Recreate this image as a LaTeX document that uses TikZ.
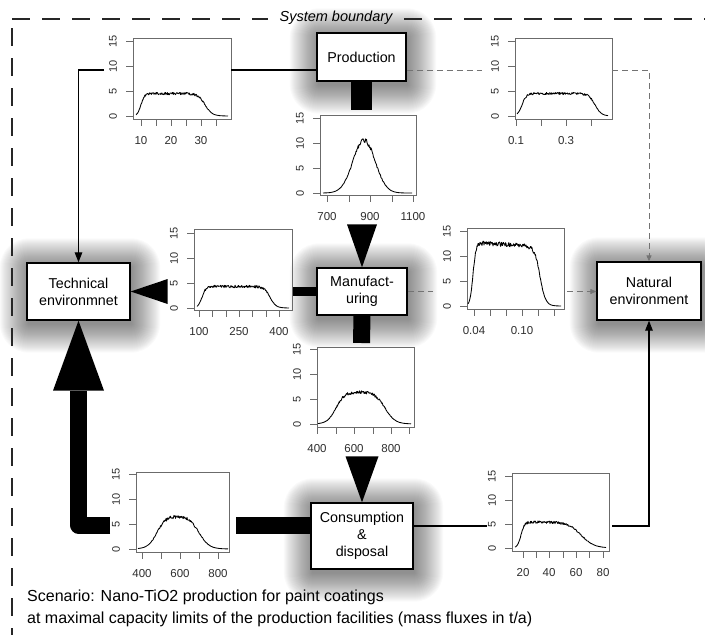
\documentclass[tikz,border=0pt]{standalone}
\usepackage{fontspec}
\setmainfont{Liberation Sans}
\usetikzlibrary{arrows.meta,backgrounds}

\definecolor{framegray}{gray}{0.42}
\definecolor{labgray}{gray}{0.18}
\definecolor{dashgray}{gray}{0.45}

% plot frame: name, left, top, right, bottom
\newcommand\plotframe[5]{%
  \node[pframe, minimum width={#4-#2}, minimum height={#5-#3}] (#1) at ({(#2+#4)/2},{(#3+#5)/2}) {};}
% y axis: name, left edge, pixel row of value 0, pixels per unit
\newcommand\yaxis[4]{%
  \foreach \v in {0,5,10,15}{%
    \draw[axtick] (#2,{#3-#4*\v}) -- ++(-7,0);
    \node[ylab] (#1y\v) at ({#2-20},{#3-#4*\v}) {\v};}}
% x axis: name, bottom edge, tick positions, position/label pairs
\newcommand\xaxis[4]{%
  \foreach \t in {#3} \draw[axtick] (\t,#2) -- ++(0,7);
  \foreach \t/\l [count=\i] in {#4} \node[xlab] (#1x\i) at (\t,{#2+22}) {\l};}
% soft shadow behind a box
\newcommand\boxshade[1]{%
  \foreach \s in {0,...,28}{%
    \fill[black, opacity=0.021, rounded corners={\s pt+1pt}]
      ([shift={({-\s*1pt+1.5pt},{-\s*1pt-4pt})}]#1.south west) rectangle
      ([shift={({\s*1pt+1.5pt},{\s*1pt-4pt})}]#1.north east);}}

\begin{document}
\begin{tikzpicture}[x=1pt, y=-1pt,
  declare function={sig(\z)=1/(1+exp(-max(-9,min(9,\z))));},
  box/.style={draw=black, line width=1.3pt, fill=white, align=center, inner sep=0pt,
    font=\fontsize{14.3}{17}\selectfont},
  pframe/.style={draw=framegray, line width=0.8pt, inner sep=0pt, outer sep=0pt},
  axtick/.style={draw=framegray, line width=0.8pt},
  ylab/.style={rotate=90, font=\fontsize{11}{13}\selectfont, text=labgray, inner sep=0pt},
  xlab/.style={font=\fontsize{11.5}{13}\selectfont, text=labgray, inner sep=0pt},
  curve/.style={line width=0.85pt, line join=round},
  thinflow/.style={line width=1.2pt},
  flow/.style={line width=1.2pt, -{Triangle[length=10pt,width=7.5pt]}},
  dflow/.style={draw=dashgray, line width=1pt, dash pattern=on 6pt off 4pt},
  dflowarrow/.style={dflow, -{Triangle[length=6pt,width=5pt]}},
  flowbar/.style={line width=#1, line cap=butt},
  boundary/.style={line width=1.3pt, draw=black!85, dash pattern=on 18pt off 12pt},
  caption/.style={anchor=west, inner sep=0pt, font=\fontsize{16}{19}\selectfont},
]
\useasboundingbox (0,0) rectangle (705,635);
\pgfmathsetseed{11}

% system boundary
\draw[boundary] (12,19) -- (268,19);
\draw[boundary] (404,19) -- (705,19);
\draw[boundary] (12,28) -- (12,635);
\node[font=\fontsize{14.5}{17}\selectfont\itshape, inner sep=0pt] (sysb) at (336,18) {System boundary};

% compartments
\node[box, minimum width=89, minimum height=48] (prod) at (361.5,57) {Production};
\node[box, minimum width=103, minimum height=57] (tech) at (78.5,291.5) {Technical\\environmnet};
\node[box, minimum width=90, minimum height=47] (manuf) at (362,291.5) {Manufact-\\uring};
\node[box, minimum width=104, minimum height=58] (nat) at (649,291) {Natural\\environment};
\node[box, minimum width=102, minimum height=66] (cons) at (362,536) {Consumption\\\&\\disposal};

% flux distributions
\plotframe{pl1}{133}{38}{231}{119}
\yaxis{pl1}{133}{116}{5}
\xaxis{pl1}{119}{141,156,171,186,201,216}{141/10,171/20,201/30}
\draw[curve] plot[domain=136:228, samples=185]
  (\x, {116 - 5*4.5*sig((\x-141)/1.8)*sig((205-\x)/3.6)*(1+0.055*rand)});

\plotframe{pl2}{515}{38}{612}{119}
\yaxis{pl2}{515}{116}{5}
\xaxis{pl2}{119}{516,541,566,591}{516/0.1,566/0.3}
\draw[curve] plot[domain=517:608, samples=183]
  (\x, {116 - 5*4.5*sig((\x-522)/2.2)*sig((595-\x)/3.2)*(1+0.05*rand)});

\plotframe{pl3}{320}{115}{416}{195}
\yaxis{pl3}{320}{193}{5}
\xaxis{pl3}{195}{327,349,370,392,413}{327/700,370/900,413/1100}
\draw[curve] plot[domain=323:412, samples=179]
  (\x, {193 - 5*10.6*exp(-(\x-364)*(\x-364)/242)*(1+0.045*rand)});

\plotframe{pl4}{194}{229}{292}{310}
\yaxis{pl4}{194}{308}{5}
\xaxis{pl4}{310}{199,212,226,239,252,266,279}{199/100,239/250,279/400}
\draw[curve] plot[domain=197:289, samples=185]
  (\x, {308 - 5*4.3*sig((\x-202)/2)*sig((270-\x)/3)*(1+0.06*rand)});

\plotframe{pl5}{467}{228}{564}{309}
\yaxis{pl5}{467}{306}{5}
\xaxis{pl5}{309}{474,490,506,522,538,554}{474/0.04,522/0.10}
\draw[curve] plot[domain=468:561, samples=187]
  (\x, {306 - 5*(12.6-0.012*(\x-480))*sig((\x-473)/1.5)*sig((540-\x)/2.8)*(1+0.035*rand)});

\plotframe{pl6}{317}{347}{414}{427}
\yaxis{pl6}{317}{424}{5}
\xaxis{pl6}{427}{317,336,354,373,391,409}{317/400,354/600,391/800}
\draw[curve] plot[domain=318:411, samples=187]
  (\x, {424 - 5*6.4*sig((\x-336)/4.3)*sig((385-\x)/5)*(1+0.05*rand)});

\plotframe{pl7}{136}{472}{229}{552}
\yaxis{pl7}{136}{549}{5}
\xaxis{pl7}{552}{142,161,180,199,218}{142/400,180/600,218/800}
\draw[curve] plot[domain=138:228, samples=181]
  (\x, {549 - 5*6.6*sig((\x-157)/4.5)*sig((199-\x)/5)*(1+0.05*rand)});

\plotframe{pl8}{512}{473}{609}{551}
\yaxis{pl8}{512}{548}{4.8}
\xaxis{pl8}{551}{523,536,549,563,576,589,603}{523/20,549/40,576/60,603/80}
\draw[curve] plot[domain=515:606, samples=183]
  (\x, {548 - 4.8*5.4*sig((\x-521)/1.8)*sig((581-\x)/6.5)*(1+0.05*rand)});

% junction points beside the distributions
\coordinate (j1) at (104,70);
\coordinate (j2) at (482,70);
\coordinate (j3) at (433,291.5);
\coordinate (j4) at (487,526);
\coordinate (k1) at (361.5,110);
\coordinate (k2) at (293,291.5);
\coordinate (k3) at (361.5,343);
\coordinate (k4) at (236,525);
\coordinate (k5) at (110,525);

% thin and dashed flows
\draw[thinflow] (prod.west |- j1) -- (pl1.east |- j1);
\draw[flow] (j1) -| (tech.north);
\draw[dflow] (prod.east |- j2) -- (j2);
\draw[dflowarrow] (pl2.east |- j2) -| (nat.north);
\draw[dflow] (manuf.east) -- (j3);
\draw[dflowarrow] ([xshift=3pt]pl5.east |- j3) -- (nat.west |- j3);
\draw[thinflow] (cons.east |- j4) -- (j4);
\draw[flow] ([xshift=3pt]pl8.east |- j4) -| (nat.south);

% thick flows
\draw[flowbar=21pt] (prod.south) -- (k1);
\fill (manuf.north) -- ++(-15,-43) -- ++(30,0) -- cycle;
\draw[flowbar=9pt] (manuf.west) -- (k2);
\fill (tech.east) -- ++(37,-12.5) -- ++(0,25) -- cycle;
\draw[flowbar=17pt] (manuf.south) -- (k3);
\fill (cons.north) -- ++(-16.5,-46) -- ++(33,0) -- cycle;
\draw[flowbar=17pt] (cons.west |- k4) -- (k4);
\draw[flowbar=17pt, line join=round] (k5) -| ([yshift=-70pt]tech.south);
\fill (tech.south) -- ++(-25.5,70) -- ++(51,0) -- cycle;

% scenario note
\node[caption] (cap1) at (27,597) {Scenario: Nano-TiO2 production for paint coatings};
\node[caption] (cap2) at (27,619) {at maximal capacity limits of the production facilities (mass fluxes in t/a)};

\begin{scope}[on background layer]
  \boxshade{prod}
  \boxshade{tech}
  \boxshade{manuf}
  \boxshade{nat}
  \boxshade{cons}
\end{scope}
\end{tikzpicture}
\end{document}
